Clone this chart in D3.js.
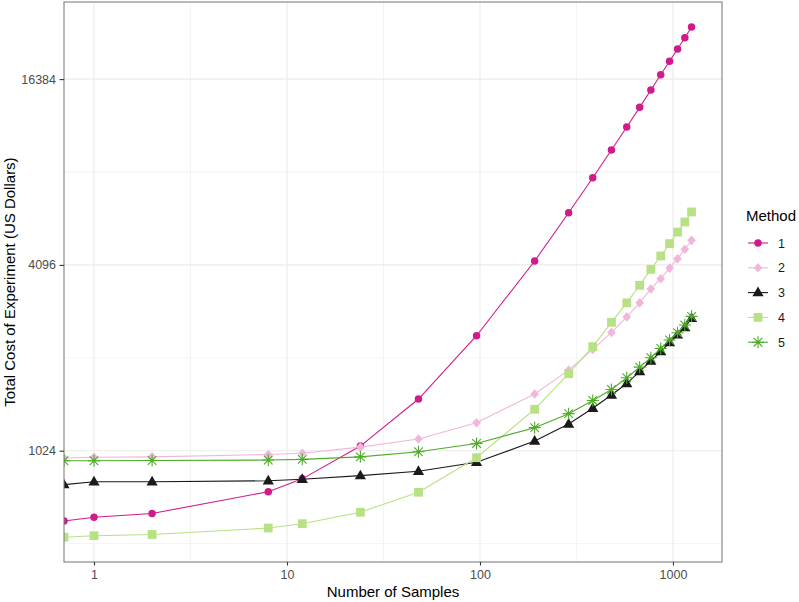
<!DOCTYPE html>
<html>
<head>
<meta charset="utf-8">
<script src="https://cdn.jsdelivr.net/npm/d3@7"></script>
<style>
  body { margin: 0; background: #fff; }
  svg { font-family: "Liberation Sans", Arial, Helvetica, sans-serif; }
</style>
</head>
<body>
<svg id="chart" width="799" height="602"></svg>
<script>
// values
const samples = [0, 1, 2, 8, 12, 24, 48, 96, 192, 288, 384, 480, 576, 672, 768, 864, 960, 1056, 1152, 1248];
const method1 = [606, 623, 641, 754, 830, 1060, 1506, 2415, 4217, 6047, 7852, 9653, 11459, 13271, 15100, 16932, 18716, 20514, 22300, 24165];
const method2 = [970, 975, 978, 995, 1005, 1052, 1117, 1262, 1564, 1868, 2178, 2475, 2779, 3086, 3423, 3695, 3999, 4290, 4603, 4920];
const method3 = [795, 812, 812, 818, 828, 850, 878, 939, 1100, 1250, 1406, 1552, 1690, 1850, 2000, 2145, 2295, 2430, 2565, 2750];
const method4 = [537, 543, 548, 575, 594, 647, 751, 972, 1395, 1819, 2226, 2669, 3086, 3517, 3962, 4378, 4800, 5232, 5641, 6080];
const method5 = [950, 950, 952, 955, 960, 978, 1016, 1081, 1216, 1350, 1490, 1616, 1765, 1910, 2050, 2195, 2340, 2470, 2615, 2790];

const methodNames = ["1", "2", "3", "4", "5"];
const methodColors = ["#D01C8B", "#F1B6DA", "#1A1A1A", "#B8E186", "#4DAC26"];
const methodShapes = ["circle", "diamond", "triangle", "square", "star"];
const xTicks = [1, 10, 100, 1000];
const xMinor = [Math.sqrt(10), Math.sqrt(1000), Math.sqrt(100000)];
const yTicks = [1024, 4096, 16384];
const yMinor = [512, 2048, 8192];

const series = [method1, method2, method3, method4, method5].map((vals, i) => ({
  name: methodNames[i],
  color: methodColors[i],
  shape: methodShapes[i],
  points: vals.map((v, j) => ({ n: samples[j], cost: v }))
}));

const svg = d3.select("#chart");
const panel = { left: 64, right: 722, top: 2, bottom: 562 };

const x = d3.scaleLog()
  .domain([Math.pow(10, -0.1554), Math.pow(10, 3.254)])
  .range([panel.left, panel.right]);
const y = d3.scaleLog().base(2)
  .domain([Math.pow(2, 8.802), Math.pow(2, 14.83)])
  .range([panel.bottom, panel.top]);

// n = 0 sits on the panel edge (log of 0 is -Inf)
const px = d => x(Math.max(d.n, x.domain()[0]));

function shapePath(shape) {
  switch (shape) {
    case "circle": return d3.symbol(d3.symbolCircle, 44)();
    case "square": return "M-4.4,-4.4H4.4V4.4H-4.4Z";
    case "triangle": return "M0,-6L5.6,3.7L-5.6,3.7Z";
    case "diamond": return "M0,-4.8L4.3,0L0,4.8L-4.3,0Z";
    case "star": return "M-6,0H6M0,-6V6M-4.3,-4.3L4.3,4.3M-4.3,4.3L4.3,-4.3";
  }
}

function drawMarker(sel, s) {
  sel.append("path")
    .attr("d", shapePath(s.shape))
    .attr("fill", s.shape === "star" ? "none" : s.color)
    .attr("stroke", s.shape === "star" ? s.color : "none")
    .attr("stroke-width", 1.1);
}

// grid
const grid = svg.append("g");
grid.selectAll("line.xminor").data(xMinor).enter().append("line")
  .attr("x1", d => x(d)).attr("x2", d => x(d))
  .attr("y1", panel.top).attr("y2", panel.bottom)
  .attr("stroke", "#EBEBEB").attr("stroke-width", 0.6);
grid.selectAll("line.yminor").data(yMinor).enter().append("line")
  .attr("y1", d => y(d)).attr("y2", d => y(d))
  .attr("x1", panel.left).attr("x2", panel.right)
  .attr("stroke", "#EBEBEB").attr("stroke-width", 0.6);
grid.selectAll("line.xmajor").data(xTicks).enter().append("line")
  .attr("x1", d => x(d)).attr("x2", d => x(d))
  .attr("y1", panel.top).attr("y2", panel.bottom)
  .attr("stroke", "#EBEBEB").attr("stroke-width", 1.1);
grid.selectAll("line.ymajor").data(yTicks).enter().append("line")
  .attr("y1", d => y(d)).attr("y2", d => y(d))
  .attr("x1", panel.left).attr("x2", panel.right)
  .attr("stroke", "#EBEBEB").attr("stroke-width", 1.1);

svg.append("clipPath").attr("id", "clip")
  .append("rect")
  .attr("x", panel.left).attr("y", panel.top)
  .attr("width", panel.right - panel.left).attr("height", panel.bottom - panel.top);

const plot = svg.append("g").attr("clip-path", "url(#clip)");

const line = d3.line().x(px).y(d => y(d.cost));

plot.selectAll("path.series").data(series).enter().append("path")
  .attr("d", d => line(d.points))
  .attr("fill", "none")
  .attr("stroke", d => d.color)
  .attr("stroke-width", 1.1);

series.forEach(s => {
  plot.append("g").selectAll("g").data(s.points).enter().append("g")
    .attr("transform", d => "translate(" + px(d) + "," + y(d.cost) + ")")
    .each(function () { drawMarker(d3.select(this), s); });
});

// panel border
svg.append("rect")
  .attr("x", panel.left).attr("y", panel.top)
  .attr("width", panel.right - panel.left).attr("height", panel.bottom - panel.top)
  .attr("fill", "none").attr("stroke", "#7F7F7F").attr("stroke-width", 1.1);

// axes
const xAxis = svg.append("g")
  .attr("transform", "translate(0," + panel.bottom + ")")
  .call(d3.axisBottom(x).tickValues(xTicks).tickFormat(d3.format("d")).tickSize(3.5).tickPadding(4.5));
const yAxis = svg.append("g")
  .attr("transform", "translate(" + panel.left + ",0)")
  .call(d3.axisLeft(y).tickValues(yTicks).tickFormat(d3.format("d")).tickSize(4.5).tickPadding(3.5));
[xAxis, yAxis].forEach(a => {
  a.select(".domain").remove();
  a.selectAll(".tick line").attr("stroke", "#333").attr("stroke-width", 1.1);
  a.selectAll(".tick text").attr("fill", "#4D4D4D").style("font-size", "12.5px")
    .style("font-family", "'Liberation Sans', Arial, sans-serif");
});

svg.append("text")
  .attr("x", (panel.left + panel.right) / 2).attr("y", 597)
  .attr("text-anchor", "middle").attr("font-size", 15)
  .text("Number of Samples");
svg.append("text")
  .attr("transform", "translate(15," + (panel.top + panel.bottom) / 2 + ") rotate(-90)")
  .attr("text-anchor", "middle").attr("font-size", 15)
  .text("Total Cost of Experiment (US Dollars)");

// legend
const legend = svg.append("g").attr("transform", "translate(746,0)");
legend.append("text").attr("x", 0).attr("y", 221).attr("font-size", 15).text("Method");
const item = legend.selectAll("g.item").data(series).enter().append("g")
  .attr("transform", (d, i) => "translate(0," + (243 + i * 24.8) + ")");
item.append("line")
  .attr("x1", 2).attr("x2", 22)
  .attr("stroke", d => d.color).attr("stroke-width", 1.1);
item.append("g").attr("transform", "translate(12,0)")
  .each(function (d) { drawMarker(d3.select(this), d); });
item.append("text")
  .attr("x", 32).attr("y", 4.5)
  .attr("font-size", 12.5).attr("fill", "#1A1A1A")
  .text(d => d.name);
</script>
</body>
</html>
